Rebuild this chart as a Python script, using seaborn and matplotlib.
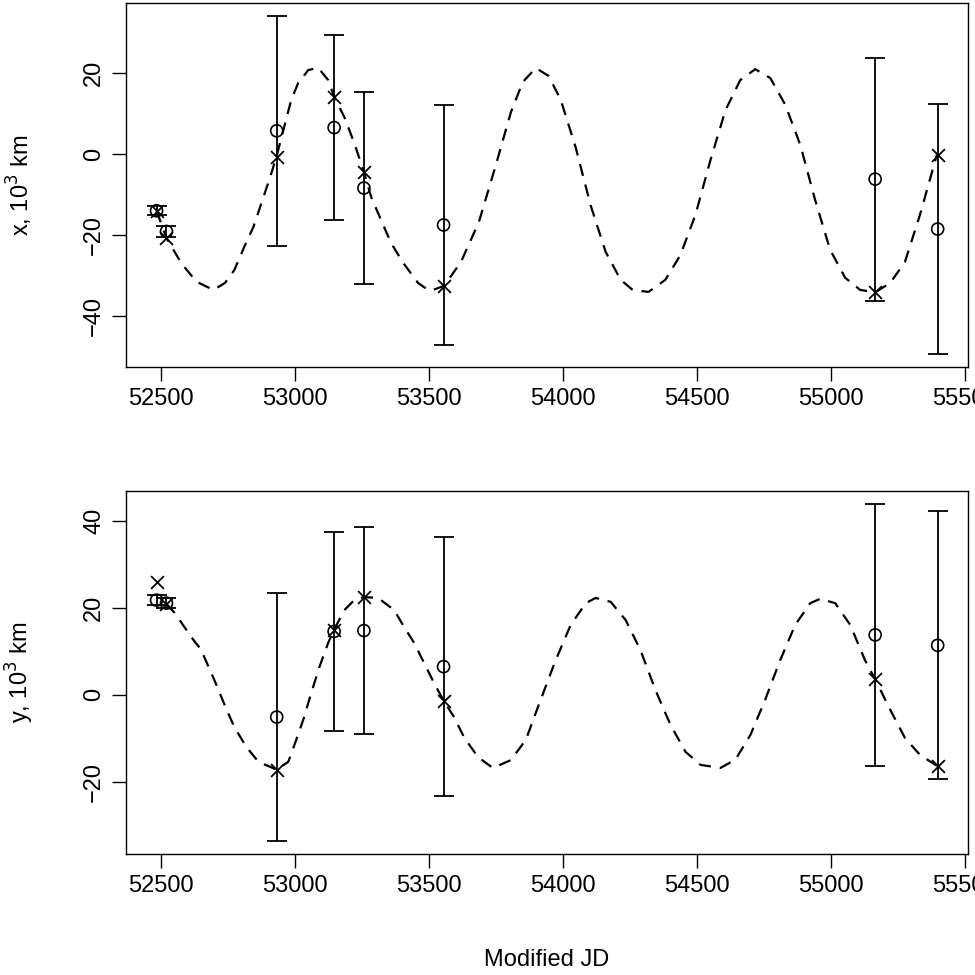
import matplotlib
matplotlib.use("Agg")
import matplotlib.pyplot as plt
import seaborn as sns
import numpy as np
import pandas as pd

# observation epochs (MJD)
mjd = [52485, 52522, 52933, 53147, 53258, 53555, 55164, 55397]

# x coordinate, 10^3 km: measured (circles), half error, model (crosses)
x_obs = [-14.0, -19.1, 5.7, 6.5, -8.4, -17.5, -6.2, -18.5]
x_err = [1.1, 1.45, 28.4, 22.75, 23.6, 29.6, 29.95, 30.7]
x_mod = [-14.0, -20.7, -0.7, 14.1, -4.4, -32.5, -34.1, -0.2]

# y coordinate, 10^3 km
y_obs = [21.8, 21.1, -5.1, 14.6, 14.8, 6.5, 13.8, 11.4]
y_err = [1.1, 1.15, 28.5, 22.8, 23.75, 29.75, 30.05, 30.85]
y_mod = [26.0, 20.9, -17.2, 15.0, 22.5, -1.3, 3.6, -16.3]

# model curves
cx_t = [52485, 52522, 52578, 52634, 52697, 52740, 52775, 52812, 52846, 52876,
        52905, 52932, 52961, 52987, 53013, 53051, 53088, 53125, 53147, 53185,
        53222, 53258, 53285, 53322, 53359, 53404, 53460, 53497, 53508, 53557,
        53620, 53687, 53750, 53806, 53850, 53899, 53947, 53992, 54048, 54103,
        54159, 54215, 54260, 54319, 54382, 54438, 54494, 54550, 54606, 54661,
        54717, 54773, 54829, 54885, 54940, 54996, 55052, 55108, 55164, 55220,
        55275, 55331, 55394]
cx_v = [-14.0, -20.7, -27.0, -31.5, -33.5, -31.8, -28.6, -22.9, -18.0, -12.1,
        -6.4, -0.7, 6.7, 13.3, 17.5, 20.7, 21.2, 18.2, 14.1, 9.1,
        2.7, -4.4, -10.6, -16.3, -21.9, -26.8, -31.8, -33.5, -33.7, -32.5,
        -26.6, -16.7, -2.7, 10.3, 17.7, 21.2, 19.2, 13.3, 1.5, -12.6,
        -24.1, -31.0, -33.5, -34.0, -31.0, -24.9, -15.0, -1.5, 10.8, 18.2,
        20.9, 18.7, 12.1, 2.2, -11.3, -23.6, -30.5, -33.5, -34.1, -31.8,
        -26.6, -15.0, -0.2]

cy_t = [52522, 52552, 52589, 52623, 52650, 52700, 52740, 52775, 52820, 52865,
        52933, 52976, 53006, 53032, 53062, 53092, 53125, 53147, 53185, 53222,
        53258, 53311, 53371, 53408, 53445, 53482, 53519, 53555, 53594, 53631,
        53683, 53739, 53806, 53862, 53917, 53973, 54029, 54085, 54122, 54178,
        54234, 54289, 54345, 54401, 54457, 54513, 54587, 54643, 54699, 54754,
        54810, 54866, 54922, 54959, 55015, 55071, 55126, 55164, 55220, 55275,
        55331, 55394]
cy_v = [20.9, 18.9, 15.6, 12.6, 10.5, 3.5, -2.5, -7.4, -12.0, -15.4,
        -17.2, -15.4, -10.3, -5.7, 0.5, 6.4, 12.0, 15.0, 19.5, 21.8,
        22.5, 22.3, 19.5, 15.6, 12.0, 7.4, 2.8, -1.3, -5.1, -9.7,
        -14.3, -16.8, -15.0, -10.3, -1.1, 8.0, 16.1, 21.1, 22.3, 21.4,
        17.2, 10.3, 1.1, -6.9, -13.1, -16.1, -16.8, -14.9, -9.2, -1.1,
        8.0, 16.1, 21.1, 22.1, 21.1, 16.1, 8.0, 3.6, -3.4, -9.9,
        -13.8, -16.3]

sns.set_style("ticks")
plt.rcParams["font.family"] = ["Liberation Sans", "DejaVu Sans"]
plt.rcParams["font.size"] = 17
plt.rcParams["text.color"] = "black"
plt.rcParams["axes.labelcolor"] = "black"
plt.rcParams["xtick.color"] = "black"
plt.rcParams["ytick.color"] = "black"

fig = plt.figure(figsize=(9.75, 9.75), dpi=100)
ax1 = fig.add_axes([0.1292, 0.6236, 0.8636, 0.3733])
ax2 = fig.add_axes([0.1292, 0.1241, 0.8636, 0.3723])


def panel(ax, obs, err, mod, ct, cv, ylabel, yticks):
    sns.lineplot(x=ct, y=cv, ax=ax, color="black", lw=1.6,
                 dashes=False, estimator=None, sort=False)
    ax.lines[-1].set_dashes([5.5, 4])
    ax.errorbar(mjd, obs, yerr=err, fmt="none", ecolor="black",
                elinewidth=1.3, capsize=7.2, capthick=1.3)
    sns.scatterplot(x=mjd, y=obs, ax=ax, marker="o", s=75,
                    facecolor="none", edgecolor="black", linewidth=1.2)
    sns.scatterplot(x=mjd, y=mod, ax=ax, marker="x", s=85,
                    color="black", linewidth=1.3)
    ax.set_xlim(52371, 55510)
    ax.set_xticks([52500, 53000, 53500, 54000, 54500, 55000, 55500])
    ax.set_yticks(yticks)
    ax.set_yticklabels([str(v).replace("-", "\u2212") for v in yticks],
                       rotation=90, va="center")
    ax.set_ylabel(ylabel)
    ax.yaxis.set_label_coords(-0.126, 0.5)
    ax.yaxis.label.set_va("center")
    ax.tick_params(length=10, width=1, colors="black", pad=5, labelsize=17)
    for s in ax.spines.values():
        s.set_color("black")
        s.set_linewidth(1)


panel(ax1, x_obs, x_err, x_mod, cx_t, cx_v, "x, 10$^3$ km", [-40, -20, 0, 20])
ax1.set_ylim(-52.5, 37.2)
panel(ax2, y_obs, y_err, y_mod, cy_t, cy_v, "y, 10$^3$ km", [-20, 0, 20, 40])
ax2.set_ylim(-36.6, 46.9)
ax2.set_xlabel("Modified JD")
ax2.xaxis.set_label_coords(0.5, -0.292)
ax2.xaxis.label.set_va("center")

fig.savefig("out.png", dpi=100, facecolor="white")
